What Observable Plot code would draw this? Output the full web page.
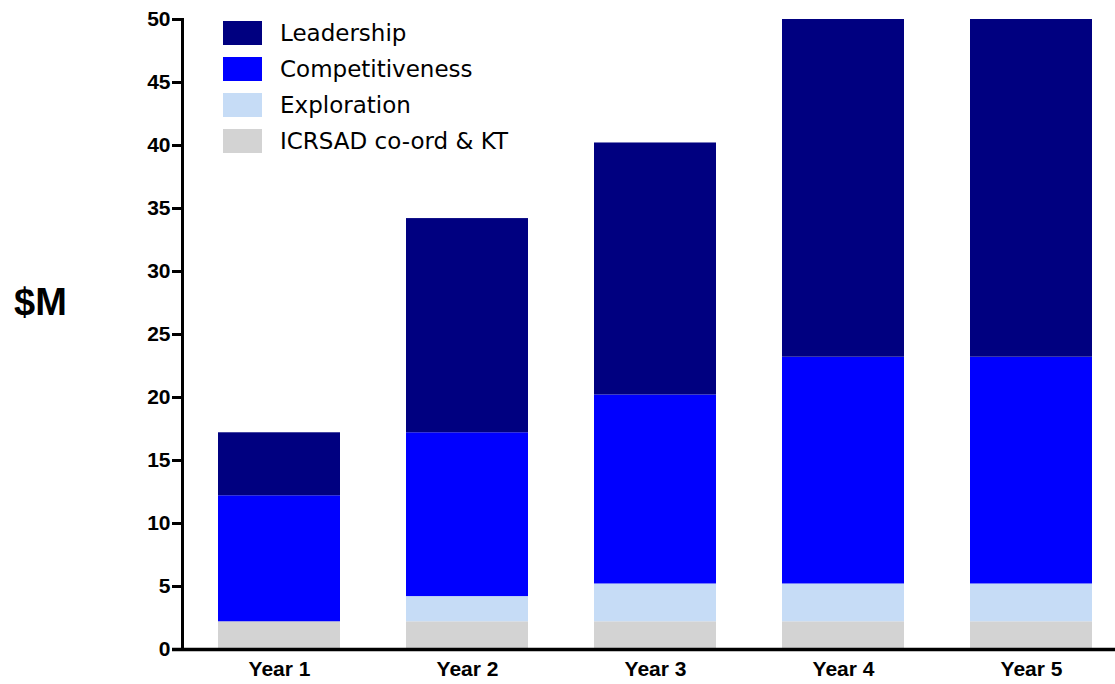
<!DOCTYPE html>
<html><head><meta charset="utf-8">
<script src="https://cdn.jsdelivr.net/npm/d3@7"></script>
<script src="https://cdn.jsdelivr.net/npm/@observablehq/plot@0.6"></script>
<style>
body{margin:0;background:#fff;}
#wrap{position:relative;width:1115px;height:684px;}
#ylab{position:absolute;left:14px;top:280px;font:bold 38px "Liberation Sans",Arial,sans-serif;color:#000;line-height:44px;}
#legend{position:absolute;left:223px;top:15px;font:23px "DejaVu Sans",sans-serif;color:#000;}
.row{display:flex;align-items:center;height:36px;}
.sw{width:39px;height:24px;margin-right:18px;}
</style></head>
<body><div id="wrap"><div id="ylab">$M</div><div id="legend"></div></div>
<script>
const years = ["Year 1","Year 2","Year 3","Year 4","Year 5"];
const series = ["ICRSAD co-ord & KT","Exploration","Competitiveness","Leadership"];
const icrsad = [2.2,2.2,2.2,2.2,2.2];
const exploration = [0,2,3,3,3];
const competitiveness = [10,13,15,18,18];
const leadership = [5,17,20,27,27];
const colors = ["#d3d3d3","#c6dcf6","#0000ff","#000080"];
const yTicks = [0,5,10,15,20,25,30,35,40,45,50];

const cols = [icrsad, exploration, competitiveness, leadership];
const data = [];
series.forEach((s,i)=>years.forEach((y,j)=>data.push({year:y, series:s, value:cols[i][j]})));

const ff = "'Liberation Sans', Arial, sans-serif";
const chart = Plot.plot({
  width:1115, height:684,
  marginLeft:182, marginRight:0, marginTop:19, marginBottom:35,
  style:{background:"transparent"},
  x:{domain:years, paddingInner:0.353, paddingOuter:0.15, align:0.6, label:null},
  y:{domain:[0,50], ticks:yTicks, label:null},
  color:{domain:series, range:colors},
  marks:[
    Plot.barY(data, Plot.stackY({x:"year", y:"value", fill:"series", order:series, clip:true})),
    Plot.axisY({ticks:yTicks, tickSize:10, tickPadding:2, strokeWidth:3, stroke:"#000", fontSize:21, fontWeight:"bold", fontFamily:ff, fill:"#000", label:null}),
    Plot.axisX({tickSize:0, tickPadding:12, fontSize:21, fontWeight:"bold", fontFamily:ff, fill:"#000", label:null}),
    Plot.frame({anchor:"left", strokeWidth:3, stroke:"#000"}),
    Plot.ruleY([0], {strokeWidth:3.5, stroke:"#000", insetLeft:-10})
  ]
});
chart.style.position="absolute"; chart.style.left="0"; chart.style.top="0";
document.getElementById("wrap").prepend(chart);
const leg = document.getElementById("legend");
[...series].reverse().forEach((s)=>{
  const i = series.indexOf(s);
  const r = document.createElement("div"); r.className="row";
  r.innerHTML = `<div class="sw" style="background:${colors[i]}"></div><span>${s.replace("&","&amp;")}</span>`;
  leg.appendChild(r);
});
</script></body></html>
